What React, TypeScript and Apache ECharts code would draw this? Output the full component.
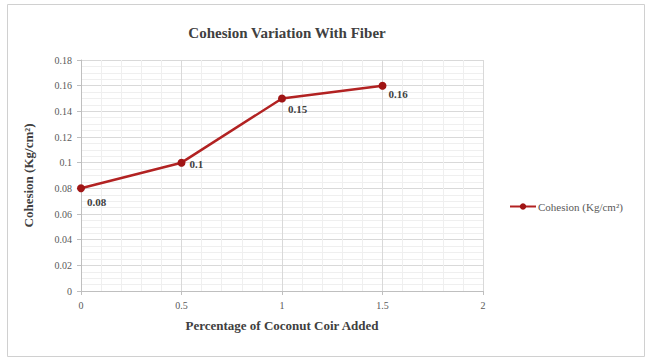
import React, { useEffect, useRef } from "react";
import * as echarts from "echarts";

const xValues = [0, 0.5, 1, 1.5];
const cohesion = [0.08, 0.1, 0.15, 0.16];
const seriesName = "Cohesion (Kg/cm²)";
const titleText = "Cohesion Variation With Fiber";
const xAxisTitle = "Percentage of Coconut Coir Added";
const yAxisTitle = "Cohesion (Kg/cm²)";

const labelOffsets: [number, number][] = [
  [-2, 14],
  [0, 1],
  [-2, 10],
  [-2, 8],
];

export default function App() {
  const ref = useRef<HTMLDivElement>(null);
  useEffect(() => {
    if (!ref.current) return;
    const chart = echarts.init(ref.current, null, { renderer: "svg" });
    const serif = "Liberation Serif";
    chart.setOption({
      animation: false,
      backgroundColor: "#ffffff",
      title: {
        text: titleText,
        left: 282,
        top: 20,
        textAlign: "center",
        textStyle: { fontFamily: serif, fontWeight: "bold", fontSize: 15, color: "#404040" },
      },
      graphic: [
        {
          type: "rect",
          shape: { x: 7.5, y: 4.5, width: 637, height: 352 },
          style: { fill: "none", stroke: "#d0d0d0", lineWidth: 1 },
          silent: true,
          z: -1,
        },
      ],
      legend: {
        left: 504,
        top: 196,
        itemWidth: 26,
        itemHeight: 8,
        itemGap: 2,
        textStyle: { fontFamily: serif, fontSize: 11, color: "#595959", padding: [0, 0, 0, -3] },
        data: [seriesName],
      },
      grid: { left: 81, right: 165, top: 60, bottom: 69 },
      xAxis: {
        type: "value",
        min: 0,
        max: 2,
        interval: 0.5,
        name: xAxisTitle,
        nameLocation: "middle",
        nameGap: 28,
        nameTextStyle: { fontFamily: serif, fontWeight: "bold", fontSize: 13, color: "#404040" },
        axisLine: { show: true, lineStyle: { color: "#bfbfbf" } },
        axisTick: { show: true, length: 4, lineStyle: { color: "#bfbfbf" } },
        axisLabel: { fontFamily: serif, fontSize: 10, color: "#595959", margin: 9 },
        splitLine: { show: true, lineStyle: { color: "#d9d9d9" } },
        minorTick: { show: false, splitNumber: 5 },
        minorSplitLine: { show: true, lineStyle: { color: "#efefef" } },
      },
      yAxis: {
        type: "value",
        min: 0,
        max: 0.18,
        interval: 0.02,
        name: yAxisTitle,
        nameLocation: "middle",
        nameGap: 46,
        nameTextStyle: { fontFamily: serif, fontWeight: "bold", fontSize: 13, color: "#404040" },
        axisLine: { show: true, lineStyle: { color: "#bfbfbf" } },
        axisTick: { show: true, length: 4, lineStyle: { color: "#bfbfbf" } },
        axisLabel: { fontFamily: serif, fontSize: 10, color: "#595959", margin: 9 },
        splitLine: { show: true, lineStyle: { color: "#d9d9d9" } },
        minorTick: { show: false, splitNumber: 4 },
        minorSplitLine: { show: true, lineStyle: { color: "#efefef" } },
      },
      series: [
        {
          name: seriesName,
          type: "line",
          data: xValues.map((x, i) => ({
            value: [x, cohesion[i]],
            label: { offset: labelOffsets[i] },
          })),
          symbol: "circle",
          symbolSize: 8,
          lineStyle: { color: "#b22222", width: 2.5 },
          itemStyle: { color: "#a01515" },
          label: {
            show: true,
            position: "right",
            distance: 4,
            fontFamily: serif,
            fontWeight: "bold",
            fontSize: 11,
            color: "#404040",
          },
        },
      ],
    });
    return () => chart.dispose();
  }, []);
  return <div ref={ref} style={{ width: 648, height: 360, position: "absolute", left: 0, top: 0 }} />;
}
